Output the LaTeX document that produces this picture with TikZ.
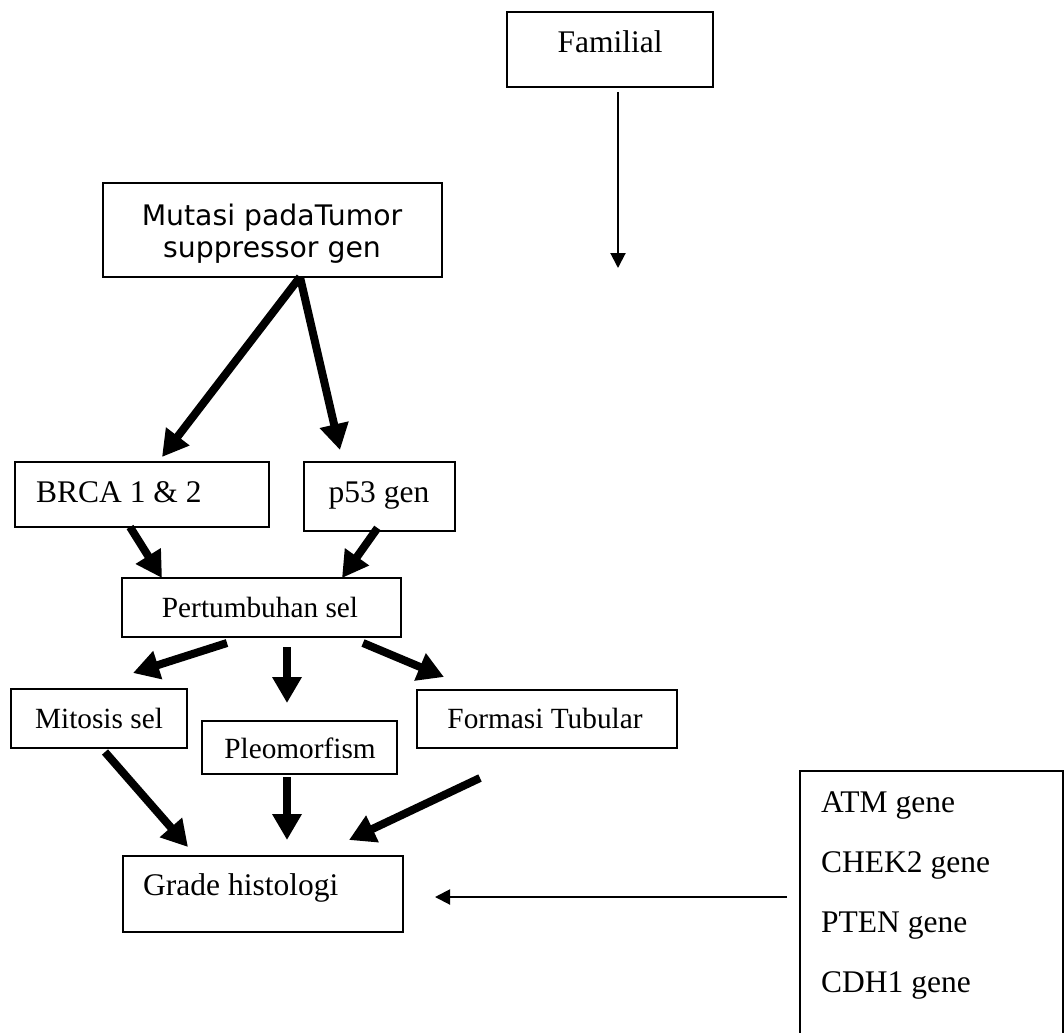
\documentclass[tikz,border=0pt]{standalone}
\usepackage{fontspec}
\setmainfont{Liberation Serif}
\newfontfamily\djv{DejaVu Sans}
\usetikzlibrary{arrows.meta,calc,fit}
\begin{document}
\begin{tikzpicture}[x=1pt,y=-1pt,
  box/.style={draw, line width=2pt, rectangle, inner sep=0pt, outer sep=0pt},
  bigarrow/.style={line width=8pt, -{Triangle[length=26pt,width=28pt]}},
  slimarrow/.style={line width=2pt, -{Triangle[length=15pt,width=15pt]}},
  tmbig/.style={inner sep=0pt, font=\fontsize{31.5}{36}\selectfont},
  tmsmall/.style={inner sep=0pt, font=\fontsize{29.3}{34}\selectfont},
  sansbig/.style={inner sep=0pt, align=center, font=\djv\fontsize{28.3}{32}\selectfont}
]
\useasboundingbox (0,0) rectangle (1064,1032);

% boxes
\node[box, fit={(507,12) (713,87)}] (fam) {};
\node[box, fit={(103,183) (442,277)}] (mut) {};
\node[box, fit={(15,462) (269,527)}] (brca) {};
\node[box, fit={(304,462) (455,531)}] (p53) {};
\node[box, fit={(122,578) (401,637)}] (pert) {};
\node[box, fit={(11,689) (187,748)}] (mit) {};
\node[box, fit={(202,721) (397,774)}] (pleo) {};
\node[box, fit={(417,690) (677,748)}] (form) {};
\node[box, fit={(123,856) (403,932)}] (grade) {};
\node[box, fit={(800,771) (1063,1050)}] (genes) {};

% texts
\node[tmbig, anchor=base] (famt) at (610,53) {Familial};
\node[sansbig, anchor=base] (mutt) at (272,257) {Mutasi padaTumor\\suppressor gen};
\node[tmbig, anchor=base west] (brcat) at (36,502) {BRCA 1 \& 2};
\node[tmbig, anchor=base] (p53t) at (379,502) {p53 gen};
\node[tmsmall, anchor=base] (pertt) at (260,617) {Pertumbuhan sel};
\node[tmsmall, anchor=base] (mitt) at (99,728) {Mitosis sel};
\node[tmsmall, anchor=base] (pleot) at (300,758) {Pleomorfism};
\node[tmsmall, anchor=base] (formt) at (545,728) {Formasi Tubular};
\node[tmbig, anchor=base west] (gradet) at (143,895) {Grade histologi};
\node[tmbig, anchor=base west] (g1) at (821,812) {ATM gene};
\node[tmbig, anchor=base west] (g2) at (821,872) {CHEK2 gene};
\node[tmbig, anchor=base west] (g3) at (821,932) {PTEN gene};
\node[tmbig, anchor=base west] (g4) at (821,992) {CDH1 gene};

% connectors
\coordinate (famend) at (618,268);
\draw[slimarrow] ($(fam.south)+(8,5)$) -- (famend);
\draw[bigarrow] ($(mut.south)+(27.5,0)$) -- ($(brca.north)+(20,-5)$);
\draw[bigarrow] ($(mut.south)+(27.5,0)$) -- ($(p53.north)+(-39.5,-12)$);
\draw[bigarrow] ($(brca.south)+(-12,0)$) -- ($(pert.north)+(-99.5,0)$);
\draw[bigarrow] ($(p53.south)+(-2,-3)$) -- ($(pert.north)+(80.5,0)$);
\draw[bigarrow] ($(pert.south)+(-34.5,6)$) -- ($(mit.north)+(34,-16)$);
\draw[bigarrow] ($(pert.south)+(25.5,10)$) -- ($(pleo.north)+(-12.5,-18)$);
\draw[bigarrow] ($(pert.south)+(101.5,6)$) -- ($(form.north)+(-103,-13)$);
\draw[bigarrow] ($(mit.south)+(6,4)$) -- ($(grade.north)+(-75,-9)$);
\draw[bigarrow] ($(pleo.south)+(-12.5,3)$) -- ($(grade.north)+(24,-16)$);
\draw[bigarrow] ($(form.south)+(-67,30)$) -- ($(grade.north)+(86,-16)$);
\draw[slimarrow] ($(genes.north west)+(-13,126)$) -- ($(grade.east)+(32,3)$);
\end{tikzpicture}
\end{document}
